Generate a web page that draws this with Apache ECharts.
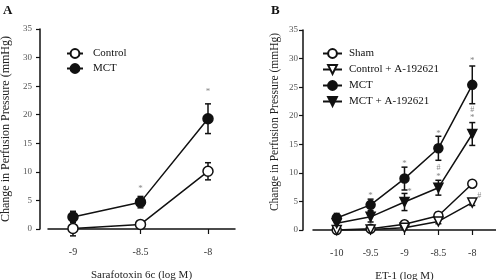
<!DOCTYPE html>
<html>
<head>
<meta charset="utf-8">
<script src="https://cdn.jsdelivr.net/npm/echarts@6/dist/echarts.min.js"></script>
<style>
  html, body { margin: 0; background: #fff; }
  #chart { width: 496px; height: 280px; }
</style>
</head>
<body>
<div id="chart"></div>
<script>
// panel A: sarafotoxin 6c
const doseA = [-9, -8.5, -8];
const controlA = [0.1, 0.8, 10.1];
const controlErrA = [1.3, 0.5, 1.5];
const mctA = [2.1, 4.7, 19.3];
const mctErrA = [1.0, 1.0, 2.6];
const marksA = [
  [-8.5, 7.0, '*', 0],
  [-8, 24.0, '*', 0],
];

// panel B: ET-1
const doseB = [-10, -9.5, -9, -8.5, -8];
const shamB = [0, 0.2, 1.0, 2.5, 8.1];
const shamErrB = [0.3, 0.3, 0.4, 0.6, 0.5];
const ctrlAB = [0, 0.1, 0.4, 1.5, 4.8];
const ctrlAErrB = [0.2, 0.2, 0.3, 0.4, 0.5];
const mctB = [2.1, 4.4, 9.0, 14.3, 25.4];
const mctErrB = [0.8, 1.0, 2.0, 2.1, 3.3];
const mctAB = [1.2, 2.3, 4.9, 7.4, 16.8];
const mctAErrB = [0.8, 0.9, 1.5, 1.3, 2.0];
const marksB = [
  [-9.5, 6.1, '*', 0],
  [-9, 11.7, '*', 0],
  [-9, 6.8, '*', 5],
  [-8.5, 16.8, '*', 0],
  [-8.5, 10.9, '#', 0],
  [-8.5, 9.3, '*', 0],
  [-8, 29.6, '*', 0],
  [-8, 21.0, '#', 0],
  [-8, 19.7, '*', 0],
  [-8, 6.0, '#', 7],
];

const yTicks = [0, 5, 10, 15, 20, 25, 30, 35];

const FONT = "'Liberation Serif', 'Times New Roman', serif";
const INK = '#111';

const zip = (xs, ys) => xs.map((x, i) => [x, ys[i]]);

function lineSeries(name, gi, xs, ys, symbol, filled) {
  return {
    name,
    type: 'line',
    xAxisIndex: gi,
    yAxisIndex: gi,
    data: zip(xs, ys),
    symbol: symbol === 'tri' ? 'triangle' : 'circle',
    symbolRotate: symbol === 'tri' ? 180 : 0,
    symbolSize: symbol === 'tri' ? 9 : (gi === 0 ? 10 : 9),
    showAllSymbol: true,
    lineStyle: { color: INK, width: 1.5 },
    itemStyle: { color: filled ? INK : '#fff', borderColor: INK, borderWidth: 1.5 },
    z: 3,
  };
}

function errorSeries(gi, xs, ys, errs) {
  return {
    type: 'custom',
    xAxisIndex: gi,
    yAxisIndex: gi,
    silent: true,
    z: 2,
    data: xs.map((x, i) => [x, ys[i] - errs[i], ys[i] + errs[i]]),
    renderItem(params, api) {
      const lo = api.coord([api.value(0), api.value(1)]);
      const hi = api.coord([api.value(0), api.value(2)]);
      const w = 3;
      const style = { stroke: INK, lineWidth: 1.5 };
      return {
        type: 'group',
        children: [
          { type: 'line', shape: { x1: lo[0], y1: lo[1], x2: hi[0], y2: hi[1] }, style },
          { type: 'line', shape: { x1: lo[0] - w, y1: lo[1], x2: lo[0] + w, y2: lo[1] }, style },
          { type: 'line', shape: { x1: hi[0] - w, y1: hi[1], x2: hi[0] + w, y2: hi[1] }, style },
        ],
      };
    },
  };
}

function markSeries(gi, marks) {
  return {
    type: 'scatter',
    xAxisIndex: gi,
    yAxisIndex: gi,
    silent: true,
    symbolSize: 0,
    z: 4,
    data: marks.map(m => ({
      value: [m[0], m[1]],
      label: {
        show: true,
        position: 'inside',
        formatter: m[2],
        offset: [m[3], 0],
        color: '#666',
        fontSize: m[2] === '#' ? 8 : 9,
        fontFamily: FONT,
      },
    })),
  };
}

function xAxis(gi, min, max, ticks, name) {
  return {
    type: 'value',
    gridIndex: gi,
    min,
    max,
    name,
    nameLocation: 'middle',
    nameGap: 41,
    nameTextStyle: { fontFamily: FONT, fontSize: 11, color: '#222' },
    axisLine: { onZero: false, lineStyle: { color: INK, width: 1.5 } },
    axisTick: { customValues: ticks, length: 5, lineStyle: { color: INK, width: 1.2 } },
    axisLabel: { customValues: ticks, margin: 18, fontFamily: FONT, fontSize: 10, color: '#333' },
    splitLine: { show: false },
  };
}

function yAxis(gi, offset, nameGap, labelMargin, nameSize, namePad) {
  return {
    type: 'value',
    gridIndex: gi,
    min: 0,
    max: 35,
    offset,
    name: 'Change in Perfusion Pressure (mmHg)',
    nameLocation: 'middle',
    nameGap,
    nameTextStyle: { fontFamily: FONT, fontSize: nameSize, color: '#222', padding: [0, 0, 0, namePad] },
    axisLine: { show: true, lineStyle: { color: INK, width: 1.5 } },
    axisTick: { show: true, customValues: yTicks, length: 4, lineStyle: { color: INK, width: 1.2 } },
    axisLabel: { customValues: yTicks, margin: labelMargin, fontFamily: FONT, fontSize: 9, color: '#555' },
    splitLine: { show: false },
  };
}

const chart = echarts.init(document.getElementById('chart'), null, { renderer: 'canvas' });

chart.setOption({
  animation: false,
  backgroundColor: '#fff',
  title: [
    { text: 'A', left: 3, top: 4, padding: 0, textStyle: { fontFamily: FONT, fontSize: 13, fontWeight: 'bold', color: INK } },
    { text: 'B', left: 271, top: 4, padding: 0, textStyle: { fontFamily: FONT, fontSize: 13, fontWeight: 'bold', color: INK } },
  ],
  grid: [
    { left: 48, right: 261, top: 29, bottom: 51, outerBoundsMode: 'none' },
    { left: 313, right: 0, top: 30, bottom: 50, outerBoundsMode: 'none' },
  ],
  xAxis: [
    xAxis(0, -9.185, -7.8, doseA, 'Sarafotoxin 6c (log M)'),
    xAxis(1, -10.35, -7.65, doseB, 'ET-1 (log M)'),
  ],
  yAxis: [
    yAxis(0, 8, 28, 8, 12, 0),
    yAxis(1, 10, 22, 5, 11.5, 16),
  ],
  legend: [
    {
      data: ['Control', 'MCT'],
      orient: 'vertical',
      left: 66,
      top: 48,
      padding: 0,
      itemWidth: 16,
      itemHeight: 11,
      itemGap: 4,
      textStyle: { fontFamily: FONT, fontSize: 11, color: INK, padding: [0, 0, 0, 5] },
    },
    {
      data: ['Sham', 'Control + A-192621', 'MCT', 'MCT + A-192621'],
      orient: 'vertical',
      left: 322,
      top: 48,
      padding: 0,
      itemWidth: 19,
      itemHeight: 11,
      itemGap: 5,
      textStyle: { fontFamily: FONT, fontSize: 11, color: INK, padding: [0, 0, 0, 2] },
    },
  ],
  series: [
    errorSeries(0, doseA, controlA, controlErrA),
    errorSeries(0, doseA, mctA, mctErrA),
    lineSeries('Control', 0, doseA, controlA, 'circle', false),
    lineSeries('MCT', 0, doseA, mctA, 'circle', true),
    markSeries(0, marksA),

    errorSeries(1, doseB, shamB, shamErrB),
    errorSeries(1, doseB, ctrlAB, ctrlAErrB),
    errorSeries(1, doseB, mctB, mctErrB),
    errorSeries(1, doseB, mctAB, mctAErrB),
    lineSeries('Sham', 1, doseB, shamB, 'circle', false),
    lineSeries('Control + A-192621', 1, doseB, ctrlAB, 'tri', false),
    lineSeries('MCT', 1, doseB, mctB, 'circle', true),
    lineSeries('MCT + A-192621', 1, doseB, mctAB, 'tri', true),
    markSeries(1, marksB),
  ],
});
</script>
</body>
</html>
